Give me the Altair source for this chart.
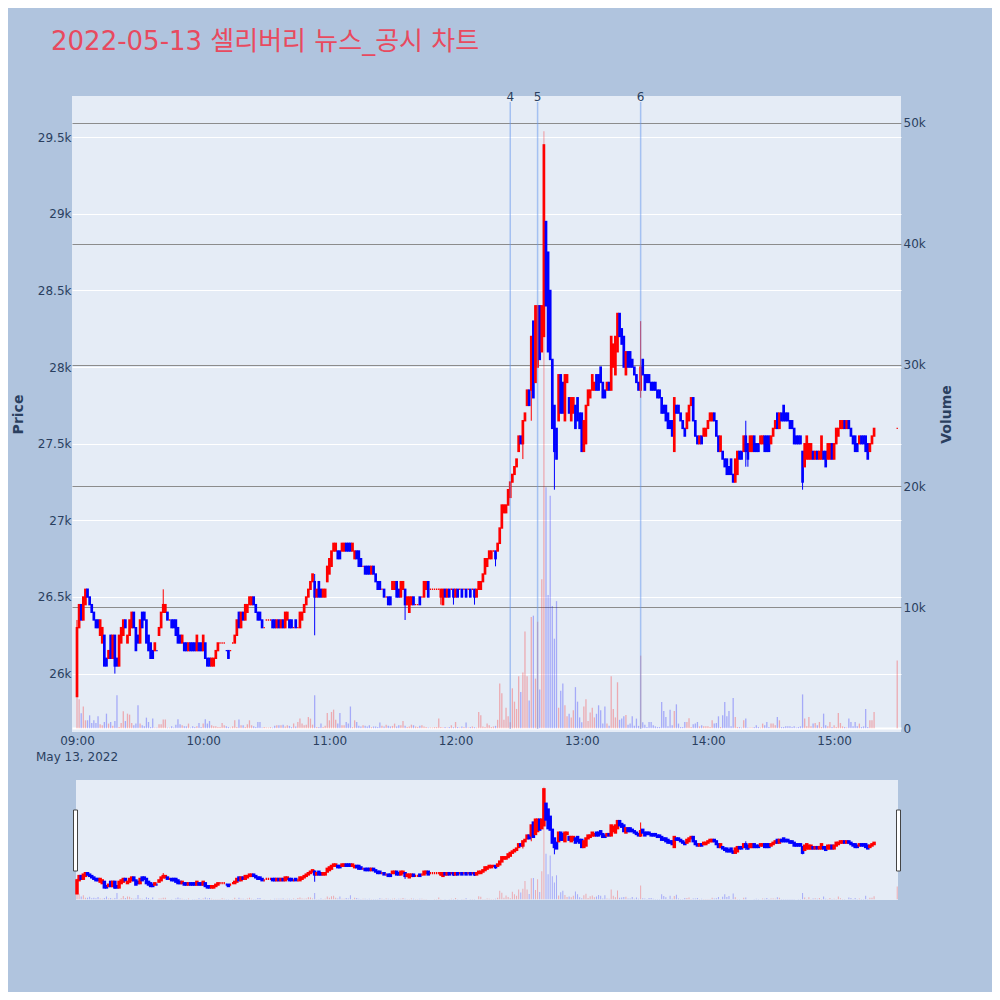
import altair as alt
import pandas as pd

TITLE = "2022-05-13 셀리버리 뉴스_공시 차트"
DATE_LABEL = "May 13, 2022"

# minute offsets from 09:00 (continuous session to 15:19, closing auction at 15:30)
minute = list(range(380)) + [390]

open_ = [
    25850, 26300, 26450, 26350, 26450, 26550, 26500, 26450, 26400, 26350,
    26350, 26250, 26200, 26250, 26100, 26100, 26250, 26100, 26250, 26100,
    26050, 26200, 26250, 26350, 26200, 26250, 26300, 26400, 26300, 26250,
    26200, 26400, 26400, 26350, 26250, 26200, 26150, 26150, 26150, 26250,
    26300, 26400, 26400, 26400, 26350, 26350, 26350, 26350, 26300, 26250,
    26200, 26200, 26200, 26150, 26200, 26200, 26200, 26150, 26200, 26200,
    26150, 26200, 26100, 26100, 26050, 26050, 26100, 26150, 26200, 26200,
    26200, 26150, 26150, 26150, 26200, 26200, 26250, 26400, 26300, 26400,
    26350, 26400, 26450, 26450, 26500, 26450, 26400, 26400, 26350, 26300,
    26350, 26350, 26350, 26350, 26350, 26300, 26350, 26300, 26350, 26300,
    26350, 26350, 26350, 26300, 26350, 26300, 26300, 26350, 26400, 26450,
    26500, 26550, 26600, 26600, 26500, 26600, 26550, 26500, 26500, 26600,
    26650, 26700, 26800, 26800, 26800, 26800, 26800, 26800, 26850, 26850,
    26850, 26800, 26750, 26800, 26800, 26750, 26700, 26700, 26700, 26700,
    26650, 26700, 26650, 26600, 26600, 26550, 26550, 26500, 26500, 26500,
    26550, 26550, 26600, 26550, 26500, 26550, 26550, 26450, 26400, 26450,
    26500, 26450, 26450, 26500, 26500, 26500, 26550, 26600, 26550, 26550,
    26550, 26550, 26550, 26500, 26450, 26550, 26500, 26550, 26550, 26550,
    26500, 26550, 26550, 26550, 26550, 26550, 26550, 26550, 26550, 26550,
    26500, 26550, 26550, 26600, 26650, 26700, 26750, 26750, 26800, 26800,
    26800, 26850, 26950, 27050, 27050, 27100, 27150, 27250, 27300, 27350,
    27450, 27550, 27500, 27650, 27750, 27850, 27850, 28300, 27900, 28000,
    28400, 28100, 28200, 28950, 28750, 28500, 28050, 27750, 27600, 27650,
    27950, 27900, 27650, 27900, 27800, 27650, 27700, 27750, 27800, 27700,
    27700, 27450, 27500, 27750, 27800, 27850, 27850, 27950, 27950, 28000,
    27900, 27850, 27850, 27900, 27850, 28000, 27950, 28100, 28350, 28250,
    28200, 27950, 28100, 28100, 28050, 28000, 27950, 27900, 27850, 28050,
    27950, 27950, 27950, 27900, 27900, 27900, 27850, 27850, 27800, 27750,
    27750, 27700, 27650, 27650, 27450, 27750, 27750, 27700, 27650, 27600,
    27600, 27650, 27750, 27800, 27650, 27550, 27500, 27550, 27550, 27550,
    27600, 27650, 27650, 27700, 27650, 27550, 27450, 27450, 27400, 27400,
    27350, 27400, 27300, 27250, 27300, 27450, 27450, 27450, 27550, 27500,
    27450, 27450, 27550, 27500, 27500, 27500, 27500, 27550, 27550, 27550,
    27500, 27550, 27600, 27700, 27600, 27700, 27750, 27700, 27700, 27650,
    27650, 27600, 27550, 27550, 27550, 27450, 27350, 27400, 27400, 27400,
    27450, 27400, 27450, 27400, 27400, 27450, 27450, 27400, 27400, 27500,
    27400, 27500, 27550, 27600, 27600, 27650, 27600, 27650, 27600, 27550,
    27550, 27500, 27500, 27550, 27550, 27550, 27500, 27450, 27500, 27550,
    27600,
]

close_ = [
    26300, 26450, 26350, 26500, 26550, 26500, 26450, 26400, 26350, 26300,
    26300, 26350, 26300, 26050, 26050, 26150, 26100, 26250, 26050, 26050,
    26250, 26300, 26350, 26300, 26250, 26350, 26400, 26300, 26150, 26200,
    26350, 26300, 26350, 26200, 26150, 26100, 26100, 26200, 26150, 26300,
    26400, 26450, 26450, 26350, 26350, 26300, 26300, 26250, 26200, 26200,
    26250, 26150, 26150, 26200, 26150, 26150, 26150, 26250, 26150, 26150,
    26250, 26100, 26050, 26050, 26100, 26100, 26150, 26200, 26200, 26200,
    26200, 26150, 26100, 26150, 26200, 26250, 26350, 26300, 26400, 26350,
    26450, 26450, 26500, 26500, 26450, 26400, 26350, 26350, 26300, 26300,
    26350, 26350, 26350, 26300, 26300, 26350, 26300, 26350, 26300, 26400,
    26400, 26300, 26300, 26300, 26300, 26300, 26400, 26400, 26450, 26500,
    26550, 26600, 26650, 26500, 26550, 26500, 26500, 26550, 26550, 26700,
    26750, 26800, 26850, 26850, 26750, 26750, 26850, 26850, 26800, 26800,
    26800, 26850, 26800, 26750, 26700, 26700, 26700, 26650, 26650, 26650,
    26700, 26650, 26600, 26550, 26550, 26550, 26500, 26500, 26450, 26450,
    26600, 26600, 26500, 26500, 26600, 26600, 26450, 26500, 26500, 26500,
    26450, 26450, 26450, 26450, 26500, 26600, 26600, 26500, 26550, 26550,
    26550, 26550, 26550, 26550, 26550, 26500, 26550, 26500, 26550, 26500,
    26550, 26500, 26550, 26500, 26550, 26500, 26550, 26500, 26550, 26500,
    26550, 26600, 26600, 26650, 26750, 26750, 26800, 26800, 26800, 26750,
    26850, 26950, 27100, 27100, 27100, 27200, 27250, 27300, 27350, 27400,
    27550, 27500, 27650, 27700, 27850, 27750, 28200, 27800, 28400, 28400,
    28050, 28400, 29450, 28400, 28100, 28050, 27600, 27450, 27400, 27950,
    27700, 27700, 27950, 27950, 27700, 27800, 27800, 27600, 27650, 27600,
    27450, 27650, 27750, 27850, 27850, 27950, 27900, 27850, 27850, 27900,
    27800, 27800, 27900, 27850, 28200, 28150, 28200, 28350, 28200, 28150,
    28000, 28100, 28000, 28000, 28000, 27950, 27900, 27850, 28000, 27950,
    27850, 27900, 27900, 27850, 27850, 27850, 27800, 27800, 27700, 27700,
    27650, 27600, 27600, 27550, 27800, 27700, 27700, 27650, 27600, 27550,
    27700, 27750, 27800, 27650, 27550, 27500, 27550, 27500, 27600, 27600,
    27650, 27700, 27700, 27650, 27550, 27450, 27550, 27400, 27350, 27300,
    27300, 27300, 27250, 27400, 27450, 27400, 27400, 27550, 27450, 27400,
    27550, 27550, 27450, 27450, 27450, 27550, 27550, 27450, 27450, 27450,
    27550, 27600, 27650, 27600, 27700, 27650, 27650, 27650, 27650, 27600,
    27600, 27500, 27500, 27500, 27500, 27250, 27500, 27550, 27500, 27500,
    27400, 27450, 27400, 27450, 27550, 27400, 27350, 27500, 27500, 27400,
    27500, 27600, 27600, 27650, 27650, 27600, 27650, 27600, 27550, 27500,
    27450, 27450, 27550, 27500, 27500, 27450, 27400, 27500, 27550, 27600,
    27600,
]

# wick extremes beyond the candle bodies (keyed by candle position)
wick_high = {0: 26350, 41: 26550, 113: 26650, 268: 28300, 318: 27650}
wick_low = {18: 26000, 113: 26250, 156: 26350, 173: 26450, 179: 26450,
            189: 26450, 199: 26700, 212: 27400, 216: 27650, 227: 27200,
            268: 27800, 318: 27350, 319: 27350, 345: 27200}

volume = [
    3100, 2400, 1250, 1800, 660, 660, 1070, 440, 660, 440,
    990, 330, 250, 520, 1210, 390, 520, 200, 600, 2720,
    110, 440, 1400, 600, 1210, 1130, 440, 250, 390, 1900,
    390, 250, 160, 880, 520, 110, 800, 60, 60, 330,
    330, 720, 720, 60, 60, 160, 60, 300, 740, 330,
    250, 160, 160, 390, 60, 160, 110, 160, 440, 110,
    390, 740, 390, 600, 250, 160, 160, 110, 110, 440,
    250, 160, 110, 60, 160, 660, 110, 720, 250, 250,
    110, 330, 660, 250, 160, 110, 520, 520, 60, 100,
    60, 60, 100, 60, 200, 250, 250, 250, 300, 150,
    250, 200, 100, 400, 150, 520, 800, 390, 250, 300,
    930, 800, 300, 2720, 100, 100, 390, 100, 200, 1265,
    660, 1350, 1540, 715, 390, 1265, 250, 250, 520, 390,
    1800, 100, 660, 520, 200, 150, 250, 200, 150, 250,
    100, 150, 150, 100, 470, 200, 150, 300, 200, 150,
    200, 390, 150, 250, 250, 600, 200, 100, 150, 300,
    250, 150, 100, 200, 250, 150, 100, 60, 60, 60,
    100, 100, 800, 100, 60, 100, 60, 100, 250, 100,
    520, 100, 60, 150, 100, 470, 60, 100, 150, 100,
    60, 1350, 1070, 150, 100, 390, 250, 100, 150, 200,
    700, 3700, 2900, 700, 1700, 1000, 500, 3300, 2200, 1600,
    4300, 3000, 4600, 8000, 4300, 2300, 9200, 9300, 4100, 8800,
    3200, 12300, 49300, 19900, 11000, 19200, 10100, 7400, 10500, 1700,
    3100, 3700, 1900, 1000, 1200, 900, 1500, 3400, 2200, 900,
    500, 1800, 2400, 600, 1300, 1700, 900, 1200, 1900, 1500,
    400, 1800, 400, 200, 4300, 1600, 900, 3800, 700, 800,
    1000, 1100, 300, 400, 1000, 200, 800, 200, 6000, 500,
    300, 110, 520, 520, 250, 160, 110, 110, 2170, 1430,
    930, 160, 1540, 250, 1430, 1980, 390, 110, 110, 520,
    520, 830, 110, 330, 390, 520, 160, 250, 160, 160,
    160, 110, 660, 390, 440, 990, 110, 1070, 2170, 990,
    1430, 160, 2500, 930, 110, 110, 60, 660, 800, 60,
    60, 60, 110, 250, 110, 60, 390, 250, 520, 110,
    390, 390, 250, 930, 660, 110, 110, 160, 160, 160,
    110, 160, 60, 110, 160, 2800, 800, 160, 930, 160,
    390, 440, 250, 520, 110, 1210, 250, 160, 520, 110,
    250, 110, 1260, 440, 160, 110, 60, 800, 520, 160,
    520, 160, 390, 110, 160, 1600, 110, 660, 660, 1350,
    5600,
]

news_time = ["2022-05-13T12:26:00", "2022-05-13T12:39:00", "2022-05-13T13:28:00"]
news_label = ["4", "5", "6"]

price_ticks = [26000, 26500, 27000, 27500, 28000, 28500, 29000, 29500]
volume_ticks = [0, 10000, 20000, 30000, 40000, 50000]
hour_ticks = [9, 10, 11, 12, 13, 14, 15]

# ---------------------------------------------------------------- table
UP, DOWN = "#ff0000", "#0000ff"
base = pd.Timestamp("2022-05-13 09:00:00")
rows = []
prev_close = open_[0]
for k, m in enumerate(minute):
    o, c = open_[k], close_[k]
    up = c > o or (c == o and c >= prev_close)
    rows.append({
        "t": (base + pd.Timedelta(minutes=m)).strftime("%Y-%m-%dT%H:%M:%S"),
        "open": o, "close": c,
        "high": max(o, c, wick_high.get(k, o)),
        "low": min(o, c, wick_low.get(k, o)),
        "vol": volume[k],
        "col": UP if up else DOWN,
    })
    prev_close = c
df = pd.DataFrame(rows)
news_df = pd.DataFrame({"t": news_time, "label": news_label})
one = pd.DataFrame({"title": [TITLE], "date": [DATE_LABEL]})

FONT = "DejaVu Sans"
TXT = "#2a3f5f"
W, H = 829, 636
PMIN, PMAX = 25619, 29769
VMIN, VMAX = -306, 52213

def dt(h, mi=0, s=0):
    return alt.DateTime(year=2022, month=5, date=13, hours=h, minutes=mi, seconds=s)

xscale = alt.Scale(domain=[dt(8, 57, 37), dt(15, 31, 48)], padding=0)
xaxis = alt.Axis(values=[dt(h) for h in hour_ticks], format="%H:%M", title=None,
                 grid=False, domain=False, ticks=False, labelFont=FONT,
                 labelFontSize=12, labelColor=TXT, labelPadding=3, labelFlush=False)
X = alt.X("t:T", scale=xscale, axis=xaxis)
col = alt.Color("col:N", scale=None)
stroke = alt.Stroke("col:N", scale=None)

pscale = alt.Scale(domain=[PMIN, PMAX], nice=False, zero=False, padding=0)
vscale = alt.Scale(domain=[VMIN, VMAX], nice=False, zero=False, padding=0)
sp = alt.Scale(domain=[PMIN, PMAX], range=[804, 684], nice=False, zero=False)
sv = alt.Scale(domain=[VMIN, VMAX], range=[804, 684], nice=False, zero=False)

price_axis = alt.Axis(orient="left", values=price_ticks, format="~s", title="Price",
                      grid=True, gridColor="white", gridWidth=1, domain=False, ticks=False,
                      labelFont=FONT, labelFontSize=12, labelColor=TXT, labelPadding=1,
                      titleFont=FONT, titleFontSize=14, titleFontWeight="bold",
                      titleColor=TXT, titleAngle=270, titleX=-54, titleY=318,
                      titleAlign="center", titleBaseline="middle")
vol_axis = alt.Axis(orient="right", values=volume_ticks, format="~s", title="Volume",
                    labelExpr="datum.value === 0 ? '0' : datum.label",
                    grid=True,
                    gridColor=alt.condition("datum.value === 0", alt.value("white"), alt.value("#8c8c8c")),
                    gridWidth=alt.condition("datum.value === 0", alt.value(2), alt.value(1)),
                    domain=False, ticks=False,
                    labelFont=FONT, labelFontSize=12, labelColor=TXT, labelPadding=2,
                    titleFont=FONT, titleFontSize=14, titleFontWeight="bold",
                    titleColor=TXT, titleAngle=270, titleX=45, titleY=318,
                    titleAlign="center", titleBaseline="middle")

vol_main = alt.Chart(df).mark_bar(size=1.3, opacity=0.28).encode(
    x=X, y=alt.Y("vol:Q", scale=vscale, axis=vol_axis), y2=alt.datum(0), color=col)
wick_main = alt.Chart(df).mark_rule(strokeWidth=1).encode(
    x=X, y=alt.Y("low:Q", scale=pscale, axis=None), y2="high:Q", color=col)
body_main = alt.Chart(df).mark_bar(size=1.3, strokeWidth=1.4).encode(
    x=X, y=alt.Y("open:Q", scale=pscale, axis=price_axis), y2="close:Q",
    color=col, stroke=stroke)

news_rule = alt.Chart(news_df).mark_rule(color="#6495ed", strokeWidth=1.5, opacity=0.5).encode(
    x=X, y=alt.value(6), y2=alt.value(633))
news_text = alt.Chart(news_df).mark_text(font=FONT, fontSize=12, color=TXT,
                                         baseline="middle", align="center").encode(
    x=X, y=alt.value(1), text="label:N")

slider_bg = alt.Chart(one).mark_rect(color="#e5ecf6").encode(
    x=alt.value(4), x2=alt.value(826), y=alt.value(684), y2=alt.value(804))
slider_vol = alt.Chart(df).mark_bar(size=1, opacity=0.28).encode(
    x=X, y=alt.Y("vol:Q", scale=sv, axis=None), y2=alt.datum(0), color=col)
slider_wick = alt.Chart(df).mark_rule(strokeWidth=1).encode(
    x=X, y=alt.Y("low:Q", scale=sp, axis=None), y2="high:Q", color=col)
slider_body = alt.Chart(df).mark_bar(size=1.3, strokeWidth=2.2).encode(
    x=X, y=alt.Y("open:Q", scale=sp, axis=None), y2="close:Q", color=col, stroke=stroke)
handle_l = alt.Chart(one).mark_rect(fill="white", stroke="#444444", strokeWidth=1).encode(
    x=alt.value(1.5), x2=alt.value(5.5), y=alt.value(714), y2=alt.value(775))
handle_r = alt.Chart(one).mark_rect(fill="white", stroke="#444444", strokeWidth=1).encode(
    x=alt.value(824.5), x2=alt.value(828.5), y=alt.value(714), y2=alt.value(775))

title_text = alt.Chart(one).mark_text(
    align="left", baseline="alphabetic", font="DejaVu Sans, Noto Sans CJK KR",
    fontSize=26, color="#e84a5f").encode(
    x=alt.value(-21), y=alt.value(-46), text="title:N")
date_text = alt.Chart(one).mark_text(
    align="center", baseline="middle", font=FONT, fontSize=12, color=TXT).encode(
    x=alt.value(5), y=alt.value(661), text="date:N")

chart = alt.layer(
    vol_main, wick_main, body_main, news_rule, news_text,
    slider_bg, slider_vol, slider_wick, slider_body, handle_l, handle_r,
    title_text, date_text,
).resolve_scale(y="independent").properties(
    width=W, height=H,
    autosize=alt.AutoSizeParams(type="none"),
    padding={"left": 64, "top": 88, "right": 91, "bottom": 260},
    background="#b0c4de",
).configure_view(fill="#e5ecf6", strokeWidth=0)

chart.save("out.html", embed_options={"renderer": "svg", "actions": False})
